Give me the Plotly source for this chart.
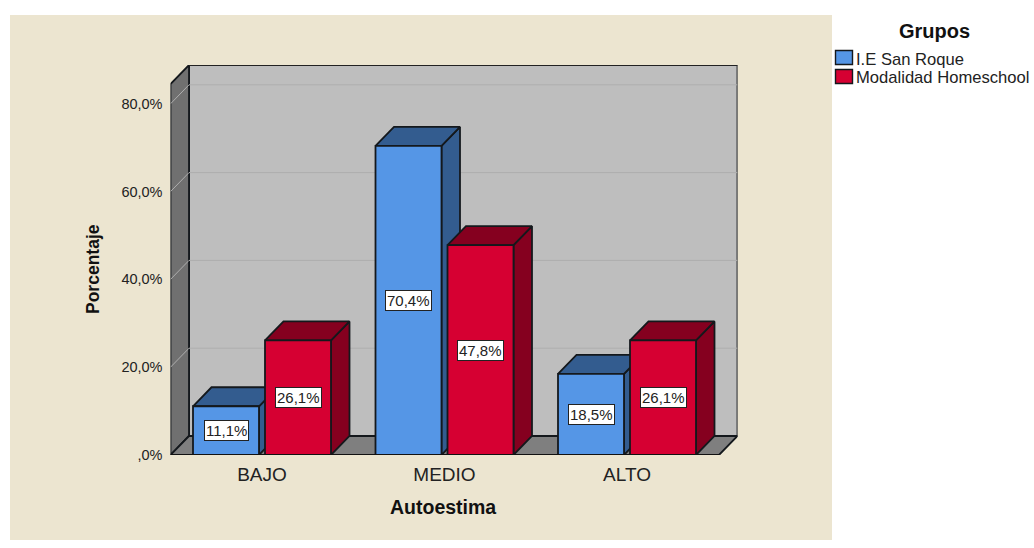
import plotly.graph_objects as go

categories = ["BAJO", "MEDIO", "ALTO"]
san_roque = [11.1, 70.4, 18.5]
homeschool = [26.1, 47.8, 26.1]
san_roque_labels = ["11,1%", "70,4%", "18,5%"]
homeschool_labels = ["26,1%", "47,8%", "26,1%"]
y_ticks = [0, 20, 40, 60, 80]
y_tick_labels = [",0%", "20,0%", "40,0%", "60,0%", "80,0%"]

W, H = 1034, 548
RENDER_H = 540  # height the page actually lays the figure out at
PX_X = 182.5   # pixels per category
PX_Y = 4.39    # pixels per percent
LEFT, RIGHT, TOP, FLOOR = 170.5, 737.5, 65.0, 455.0
CENTER0 = 262.0

DX = 18.5 / PX_X
DY = 19.0 / PX_Y
BAR_W = 66.0 / PX_X
OFFSET = 36.0 / PX_X
X0 = (LEFT - CENTER0) / PX_X
X2 = (RIGHT - CENTER0) / PX_X
X1 = X2 - DX
Y2 = (FLOOR - TOP) / PX_Y
Y1 = Y2 - DY

BLUE, BLUE_DK = "#5596E6", "#335C8F"
RED, RED_DK = "#D60032", "#85001F"
BEIGE = "#ECE5D0"
EDGE = "#14181c"
FONT = "Liberation Sans, Arial, sans-serif"
TXT = "#222222"
LW = 1.8
xs = list(range(len(categories)))


def poly(xv, yv, fill, line=EDGE, width=LW):
    return go.Scatter(x=xv, y=yv, mode="lines", fill="toself", fillcolor=fill,
                      line=dict(color=line, width=width), hoverinfo="skip",
                      showlegend=False, cliponaxis=False)


def line(xv, yv, color, width=1.0):
    return go.Scatter(x=xv, y=yv, mode="lines", line=dict(color=color, width=width),
                      hoverinfo="skip", showlegend=False, cliponaxis=False)


fig = go.Figure()

# chart walls
fig.add_trace(poly([X0 + DX, X2, X2, X0 + DX, X0 + DX], [DY, DY, Y2, Y2, DY], "#BEBEBE"))
fig.add_trace(poly([X0, X0 + DX, X0 + DX, X0, X0], [0, DY, Y2, Y1, 0], "#707070"))
fig.add_trace(poly([X0, X1, X2, X0 + DX, X0], [0, 0, DY, DY, 0], "#7F7F7F"))
for v in y_ticks[1:]:
    fig.add_trace(line([X0, X0 + DX, X2], [v, v + DY, v + DY], "#AEAEAE"))
fig.add_trace(line([X0 + DX, X2], [Y2, Y2], "#222222", 2.2))


def extrude(x_left, value, dark):
    x_right = x_left + BAR_W
    fig.add_trace(poly([x_right, x_right + DX, x_right + DX, x_right, x_right],
                       [0, DY, value + DY, value, 0], dark))
    fig.add_trace(poly([x_left, x_left + DX, x_right + DX, x_right, x_left],
                       [value, value + DY, value + DY, value, value], dark))


for i in xs:
    extrude(i - OFFSET - BAR_W / 2, san_roque[i], BLUE_DK)
    extrude(i + OFFSET - BAR_W / 2, homeschool[i], RED_DK)

# front faces sit on an overlaid axis pair so they cover neighbouring side faces
fig.add_trace(go.Bar(x=[i - OFFSET for i in xs], y=san_roque, width=BAR_W, name="I.E San Roque",
                     marker=dict(color=BLUE, line=dict(color=EDGE, width=LW)),
                     xaxis="x2", yaxis="y2", showlegend=False,
                     customdata=categories, hovertemplate="%{customdata}: %{y}%<extra>I.E San Roque</extra>"))
fig.add_trace(go.Bar(x=[i + OFFSET for i in xs], y=homeschool, width=BAR_W, name="Modalidad Homeschool",
                     marker=dict(color=RED, line=dict(color=EDGE, width=LW)),
                     xaxis="x2", yaxis="y2", showlegend=False,
                     customdata=categories, hovertemplate="%{customdata}: %{y}%<extra>Modalidad Homeschool</extra>"))
fig.add_trace(go.Scatter(x=[X0, X1], y=[0, 0], mode="lines", line=dict(color="#111111", width=2.2),
                         xaxis="x2", yaxis="y2", hoverinfo="skip", showlegend=False, cliponaxis=False))

annotations = []
for i in xs:
    for off, vals, labs in ((-OFFSET, san_roque, san_roque_labels), (OFFSET, homeschool, homeschool_labels)):
        annotations.append(dict(x=i + off, y=vals[i] / 2, xref="x", yref="y", text=labs[i],
                                showarrow=False, bgcolor="white", bordercolor="#222222", borderwidth=1,
                                borderpad=1, font=dict(family=FONT, size=15, color=TXT)))


def label(px, py, text, size, bold=False, angle=0, anchor="center"):
    annotations.append(dict(x=px / W, y=1 - py / RENDER_H, xref="paper", yref="paper", showarrow=False,
                            text=f"<b>{text}</b>" if bold else text, textangle=angle,
                            xanchor=anchor, yanchor="middle", xshift=-2 if anchor == "left" else 0,
                            font=dict(family=FONT, size=size, color="#111111" if bold else TXT)))


label(443, 507, "Autoestima", 19.5, bold=True)
label(93, 269, "Porcentaje", 17.5, bold=True, angle=-90)
label(934, 31, "Grupos", 20, bold=True)
label(856, 59, "I.E San Roque", 16.6, anchor="left")
label(856, 77, "Modalidad Homeschool", 16.6, anchor="left")


def rect(x0, y0, x1, y1, fill, edge=None):
    return dict(type="rect", xref="paper", yref="paper", x0=x0 / W, x1=x1 / W,
                y0=1 - y0 / RENDER_H, y1=1 - y1 / RENDER_H, fillcolor=fill, layer="below",
                line=dict(color=edge, width=1.4) if edge else dict(width=0))


shapes = [rect(10, 15, 832, RENDER_H, BEIGE),
          rect(835.5, 50.5, 852.5, 64.5, BLUE, EDGE),
          rect(835.5, 69.5, 852.5, 83.5, RED, EDGE)]

dom_x = [LEFT / W, RIGHT / W]
dom_y = [1 - FLOOR / RENDER_H, 1 - TOP / RENDER_H]
fig.update_layout(
    width=W, height=H, autosize=False, margin=dict(l=0, r=0, t=0, b=0),
    paper_bgcolor="white", plot_bgcolor="rgba(0,0,0,0)", showlegend=False, barmode="overlay",
    annotations=annotations, shapes=shapes, font=dict(family=FONT, color=TXT),
    xaxis=dict(domain=dom_x, range=[X0, X2], tickvals=xs, ticktext=categories, showgrid=False,
               zeroline=False, showline=False, ticks="", ticklabelstandoff=6,
               tickfont=dict(family=FONT, size=19, color=TXT)),
    yaxis=dict(domain=dom_y, range=[0, Y2], tickvals=y_ticks, ticktext=y_tick_labels, showgrid=False,
               zeroline=False, showline=False, ticks="", ticklabelstandoff=7,
               tickfont=dict(family=FONT, size=14.5, color=TXT)),
    xaxis2=dict(domain=dom_x, range=[X0, X2], overlaying="x", anchor="y2", visible=False),
    yaxis2=dict(domain=dom_y, range=[0, Y2], overlaying="y", anchor="x2", visible=False),
)
body_css = (f"document.body.style.margin='0';document.body.style.overflow='hidden';"
            f"document.documentElement.style.background='linear-gradient(to right,white 10px,{BEIGE} 10px,"
            f"{BEIGE} 832px,white 832px)';")
fig.write_html("out.html", config=dict(displayModeBar=False), post_script=body_css)
